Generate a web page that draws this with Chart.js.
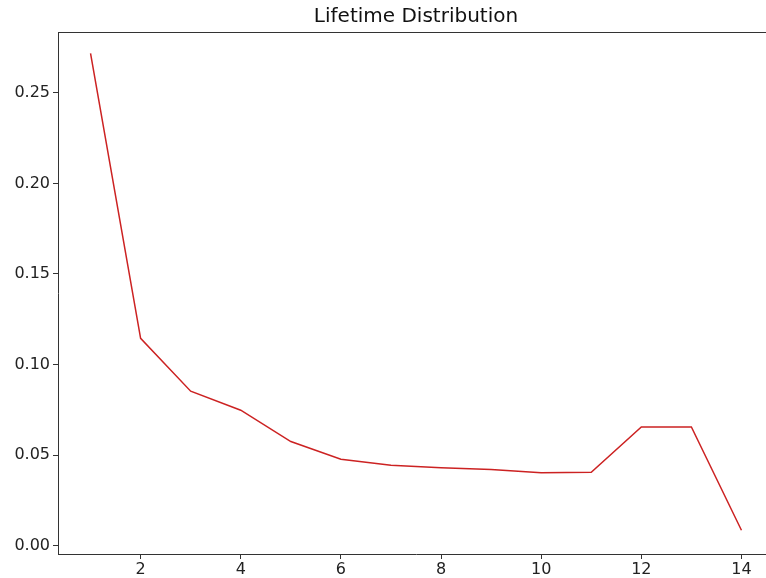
<!DOCTYPE html>
<html>
<head>
<meta charset="utf-8">
<title>Lifetime Distribution</title>
<script src="https://cdn.jsdelivr.net/npm/chart.js@4/dist/chart.umd.min.js"></script>
<style>
  html, body { margin: 0; padding: 0; background: #fff; overflow: hidden; }
  #wrap { width: 832px; height: 578px; }
</style>
</head>
<body>
<div id="wrap"><canvas id="grafico" width="832" height="578"></canvas></div>
<script>
// Datos
const lifetimes = [1, 2, 3, 4, 5, 6, 7, 8, 9, 10, 11, 12, 13, 14];
const probabilities = [0.2718, 0.1145, 0.0853, 0.0748, 0.0575, 0.0477, 0.0444,
                       0.0430, 0.0420, 0.0402, 0.0405, 0.0655, 0.0655, 0.0085];
const xTicks = [2, 4, 6, 8, 10, 12, 14];
const yTicks = [0.00, 0.05, 0.10, 0.15, 0.20, 0.25];

const fuente = { family: 'DejaVu Sans', size: 16 };

// marco superior y derecho (como matplotlib)
const marcoPlugin = {
  id: 'marco',
  afterDraw(chart) {
    const { ctx, chartArea } = chart;
    ctx.save();
    ctx.strokeStyle = '#333';
    ctx.lineWidth = 1;
    ctx.beginPath();
    ctx.moveTo(chartArea.left, chartArea.top + 0.5);
    ctx.lineTo(chartArea.right, chartArea.top + 0.5);
    ctx.lineTo(chartArea.right, chartArea.bottom);
    ctx.stroke();
    ctx.restore();
  }
};

const ctx = document.getElementById('grafico').getContext('2d');
new Chart(ctx, {
  type: 'line',
  data: {
    datasets: [{
      data: lifetimes.map((x, i) => ({ x: x, y: probabilities[i] })),
      borderColor: '#cc2222',
      borderWidth: 1.5,
      pointRadius: 0,
      tension: 0,
      fill: false
    }]
  },
  options: {
    responsive: false,
    animation: false,
    layout: { padding: { left: 0, right: 58, top: 0, bottom: 0 } },
    plugins: {
      legend: { display: false },
      tooltip: { enabled: false },
      title: {
        display: true,
        fullSize: false,
        text: 'Lifetime Distribution',
        color: '#111',
        font: { family: 'DejaVu Sans', size: 20, weight: 'normal' },
        padding: { top: 5, bottom: 3 }
      }
    },
    scales: {
      x: {
        type: 'linear',
        min: 0.35,
        max: 14.65,
        afterBuildTicks: scale => { scale.ticks = xTicks.map(v => ({ value: v })); },
        afterFit: scale => { scale.height = 24; },
        ticks: { color: '#222', font: fuente, padding: 1, maxRotation: 0, autoSkip: false },
        grid: { drawOnChartArea: false, drawTicks: true, tickLength: 5, tickColor: '#333' },
        border: { color: '#333', width: 1 }
      },
      y: {
        type: 'linear',
        min: -0.0046,
        max: 0.2836,
        afterBuildTicks: scale => { scale.ticks = yTicks.map(v => ({ value: v })); },
        afterFit: scale => { scale.width = 58; },
        ticks: { color: '#222', font: fuente, padding: 3, autoSkip: false,
                 callback: v => v.toFixed(2) },
        grid: { drawOnChartArea: false, drawTicks: true, tickLength: 5, tickColor: '#333' },
        border: { color: '#333', width: 1 }
      }
    }
  },
  plugins: [marcoPlugin]
});
</script>
</body>
</html>
